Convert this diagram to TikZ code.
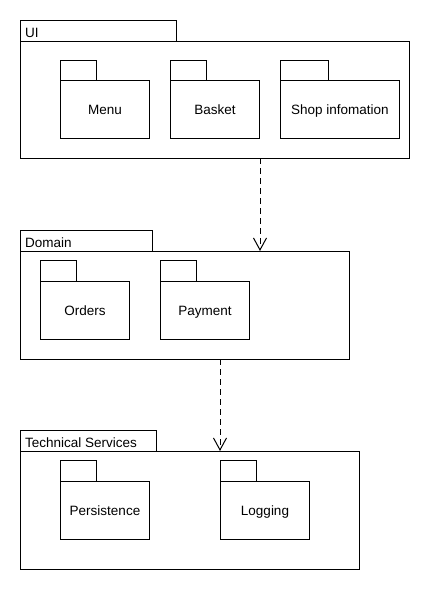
\documentclass[tikz,border=0pt]{standalone}
\usepackage{fontspec}
\setmainfont{Liberation Sans}
\usetikzlibrary{arrows.meta}
\begin{document}
\begin{tikzpicture}[x=1pt,y=-1pt,
  lbl/.style={font=\fontsize{13.5}{15}\selectfont},
  box/.style={draw,line width=1pt,inner sep=0pt,anchor=north west,lbl,text height=10pt,text depth=0pt},
  tablbl/.style={anchor=base west,lbl,inner sep=0pt},
  dep/.style={line width=1pt,dash pattern=on 6pt off 4pt,-{Straight Barb[length=12pt,width=13pt,line width=1pt]}}]
\useasboundingbox (0,0) rectangle (430,590);
% UI
\node[box,minimum width=156pt,minimum height=21pt] (uitab) at (20,20) {};
\node[tablbl] (uilbl) at (25,37) {UI};
\node[box,minimum width=389pt,minimum height=117pt] (ui) at (20,41) {};
\node[box,minimum width=36pt,minimum height=20pt] (menutab) at (60,60) {};
\node[box,minimum width=89pt,minimum height=58pt] (menu) at (60,80) {Menu};
\node[box,minimum width=36pt,minimum height=20pt] (baskettab) at (170,60) {};
\node[box,minimum width=89pt,minimum height=58pt] (basket) at (170,80) {Basket};
\node[box,minimum width=48pt,minimum height=20pt] (shoptab) at (280,60) {};
\node[box,minimum width=119pt,minimum height=58pt] (shop) at (280,80) {Shop infomation};
% Domain
\node[box,minimum width=132pt,minimum height=21pt] (domtab) at (20,230) {};
\node[tablbl] (domlbl) at (25,247) {Domain};
\node[box,minimum width=329pt,minimum height=108pt] (dom) at (20,251) {};
\node[box,minimum width=36pt,minimum height=21pt] (orderstab) at (40,260) {};
\node[box,minimum width=89pt,minimum height=58pt] (orders) at (40,281) {Orders};
\node[box,minimum width=36pt,minimum height=21pt] (paytab) at (160,260) {};
\node[box,minimum width=89pt,minimum height=58pt] (pay) at (160,281) {Payment};
% Technical Services
\node[box,minimum width=136pt,minimum height=21pt] (techtab) at (20,430) {};
\node[tablbl] (techlbl) at (25,447) {Technical Services};
\node[box,minimum width=339pt,minimum height=118pt] (tech) at (20,451) {};
\node[box,minimum width=36pt,minimum height=21pt] (perstab) at (60,460) {};
\node[box,minimum width=89pt,minimum height=58pt] (pers) at (60,481) {Persistence};
\node[box,minimum width=36pt,minimum height=21pt] (logtab) at (220,460) {};
\node[box,minimum width=89pt,minimum height=58pt] (log) at (220,481) {Logging};
% dependencies
\coordinate (a1s) at (260,158);
\coordinate (a1e) at (260,251);
\coordinate (a2s) at (220,359);
\coordinate (a2e) at (220,451);
\draw[dep] (a1s) -- (a1e);
\draw[dep] (a2s) -- (a2e);
\end{tikzpicture}
\end{document}
